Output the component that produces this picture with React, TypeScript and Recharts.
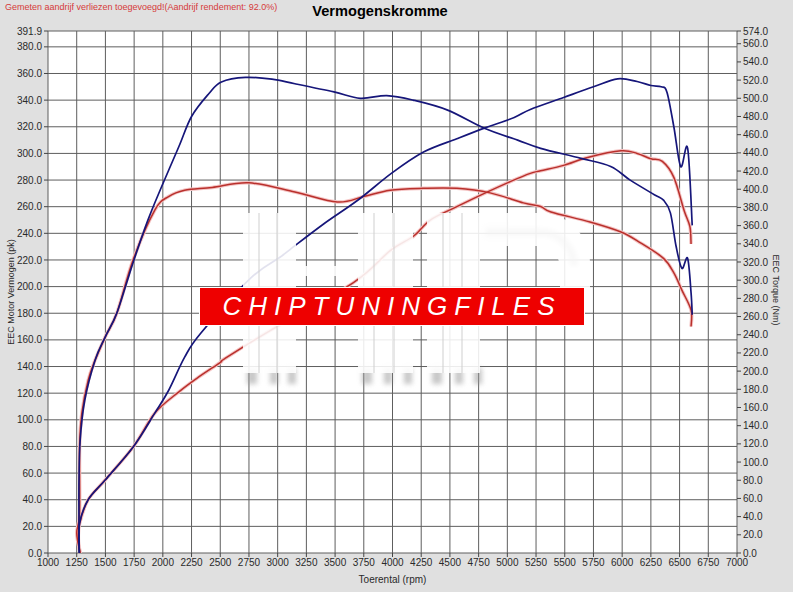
import { LineChart, Line, XAxis, YAxis, CartesianGrid } from "recharts";

// toerental ticks / as-schalen
const rpmTicks = [1000, 1250, 1500, 1750, 2000, 2250, 2500, 2750, 3000, 3250, 3500, 3750, 4000, 4250, 4500, 4750, 5000, 5250, 5500, 5750, 6000, 6250, 6500, 6750, 7000];
const pkTicks = [0, 20, 40, 60, 80, 100, 120, 140, 160, 180, 200, 220, 240, 260, 280, 300, 320, 340, 360, 380, 391.9];
const nmTicks = [0, 20, 40, 60, 80, 100, 120, 140, 160, 180, 200, 220, 240, 260, 280, 300, 320, 340, 360, 380, 400, 420, 440, 460, 480, 500, 520, 540, 560, 574];

// vermogen na tuning (blauw)
const tunedPowerRpm = [1272, 1275, 1350, 1500, 1745, 1930, 2050, 2190, 2330, 2760, 3020, 3110, 3400, 3700, 3990, 4270, 4560, 4800, 5060, 5200, 5490, 5750, 5960, 6130, 6250, 6340, 6390, 6450, 6510, 6570, 6610];
const tunedPowerPk = [0, 22, 40, 55, 80, 105, 122, 147, 165, 206, 222, 228, 247, 265, 285, 301, 311, 319, 327, 333, 342, 350, 356, 354, 351, 350, 346, 320, 290, 304, 246];

// koppel na tuning (blauw)
const tunedTorqueRpm = [1272, 1270, 1270, 1280, 1320, 1410, 1500, 1600, 1740, 1870, 1990, 2140, 2250, 2400, 2510, 2720, 2950, 3150, 3490, 3720, 3950, 4180, 4480, 4800, 5090, 5290, 5640, 5900, 6070, 6280, 6360, 6420, 6470, 6520, 6570, 6600, 6610];
const tunedTorqueNm = [0, 33, 80, 124, 168, 212, 238, 264, 319, 366, 403, 447, 480, 505, 518, 523, 521, 516, 507, 500, 503, 498, 487, 467, 454, 445, 434, 425, 410, 394, 388, 374, 337, 313, 324, 286, 262];

// vermogen standaard (rood)
const stockPowerRpm = [1280, 1265, 1275, 1350, 1500, 1745, 1930, 2140, 2310, 2500, 2540, 2935, 3660, 3980, 4185, 4330, 4560, 4800, 5030, 5200, 5290, 5490, 5700, 5990, 6130, 6250, 6350, 6450, 6540, 6590, 6600];
const stockPowerPk = [0, 10, 22, 40, 55, 80, 105, 121, 132, 143, 146, 167, 203, 227, 238, 250, 260, 270, 279, 285, 287, 291, 297, 302, 300, 296, 294, 282, 257, 245, 232];

// koppel standaard (rood)
const stockTorqueRpm = [1280, 1250, 1275, 1275, 1295, 1350, 1410, 1500, 1600, 1740, 1930, 2050, 2190, 2430, 2750, 3150, 3520, 3750, 3980, 4270, 4560, 4850, 5140, 5290, 5380, 5720, 5990, 6160, 6360, 6450, 6520, 6600, 6600];
const stockTorqueNm = [0, 22, 44, 117, 154, 190, 212, 238, 264, 322, 377, 392, 399, 402, 407, 397, 386, 392, 399, 401, 401, 396, 385, 381, 375, 364, 353, 341, 324, 308, 289, 267, 249];

const toRows = (rpm: number[], vals: number[]) => rpm.map((r, i) => ({ rpm: r, v: vals[i] }));

const tunedPower = toRows(tunedPowerRpm, tunedPowerPk);
const tunedTorque = toRows(tunedTorqueRpm, tunedTorqueNm);
const stockPower = toRows(stockPowerRpm, stockPowerPk);
const stockTorque = toRows(stockTorqueRpm, stockTorqueNm);

// catmull-rom door de meetpunten, werkt ook als het toerental even terugloopt
const smoothCurve = (ctx: any) => {
  let pts: number[][] = [];
  return {
    areaStart() {},
    areaEnd() {},
    lineStart() {
      pts = [];
    },
    point(x: number, y: number) {
      pts.push([+x, +y]);
    },
    lineEnd() {
      if (!pts.length) return;
      ctx.moveTo(pts[0][0], pts[0][1]);
      for (let i = 0; i < pts.length - 1; i++) {
        const p0 = pts[Math.max(i - 1, 0)];
        const p1 = pts[i];
        const p2 = pts[i + 1];
        const p3 = pts[Math.min(i + 2, pts.length - 1)];
        ctx.bezierCurveTo(
          p1[0] + (p2[0] - p0[0]) / 6,
          p1[1] + (p2[1] - p0[1]) / 6,
          p2[0] - (p3[0] - p1[0]) / 6,
          p2[1] - (p3[1] - p1[1]) / 6,
          p2[0],
          p2[1]
        );
      }
    },
  };
};

const BLUE = "#16167a";
const RED = "#b9302c";
const HALO = "#f4c4c4";
const tickStyle = { fontSize: 10, fill: "#2a2a2a", fontFamily: "Liberation Sans, Arial" };

export default function App() {
  return (
    <div
      style={{
        position: "absolute",
        left: 0,
        top: 0,
        width: 793,
        height: 592,
        background: "#e0e0e0",
        fontFamily: "Liberation Sans, Arial, sans-serif",
        overflow: "hidden",
      }}
    >
      <div style={{ position: "absolute", left: 5, top: 2, fontSize: 9, color: "#d63a3a" }}>
        Gemeten aandrijf verliezen toegevoegd!(Aandrijf rendement: 92.0%)
      </div>
      <div
        style={{
          position: "absolute",
          left: 280,
          width: 200,
          top: 3,
          textAlign: "center",
          fontSize: 14.6,
          fontWeight: "bold",
          color: "#000",
        }}
      >
        Vermogenskromme
      </div>

      <LineChart width={793} height={592} margin={{ top: 31, right: 0, bottom: 0, left: 0 }}>
        <CartesianGrid yAxisId="pk" fill="#ffffff" stroke="#5e5e5e" strokeWidth={1} />
        <XAxis
          dataKey="rpm"
          type="number"
          domain={[1000, 7000]}
          ticks={rpmTicks}
          interval={0}
          allowDuplicatedCategory={false}
          height={39}
          tickSize={4}
          tick={tickStyle}
          stroke="#444"
          axisLine={false}
          label={{ value: "Toerental (rpm)", position: "insideBottom", offset: 9, style: { fontSize: 10, fill: "#2a2a2a" } }}
        />
        <YAxis
          yAxisId="pk"
          orientation="left"
          type="number"
          domain={[0, 391.9]}
          ticks={pkTicks}
          interval={0}
          width={48}
          tickSize={4}
          tick={tickStyle}
          stroke="#444"
          axisLine={false}
          tickFormatter={(v: number) => v.toFixed(1)}
        />
        <YAxis
          yAxisId="nm"
          orientation="right"
          type="number"
          domain={[0, 574]}
          ticks={nmTicks}
          interval={0}
          width={56}
          tickSize={4}
          tick={tickStyle}
          stroke="#444"
          axisLine={false}
          tickFormatter={(v: number) => v.toFixed(1)}
        />

        <Line yAxisId="nm" data={stockTorque} dataKey="v" type={smoothCurve as any} stroke={HALO} strokeWidth={3.5} dot={false} activeDot={false} isAnimationActive={false} />
        <Line yAxisId="pk" data={stockPower} dataKey="v" type={smoothCurve as any} stroke={HALO} strokeWidth={3.5} dot={false} activeDot={false} isAnimationActive={false} />
        <Line yAxisId="nm" data={stockTorque} dataKey="v" type={smoothCurve as any} stroke={RED} strokeWidth={1.5} dot={false} activeDot={false} isAnimationActive={false} />
        <Line yAxisId="pk" data={stockPower} dataKey="v" type={smoothCurve as any} stroke={RED} strokeWidth={1.5} dot={false} activeDot={false} isAnimationActive={false} />
        <Line yAxisId="nm" data={tunedTorque} dataKey="v" type={smoothCurve as any} stroke={BLUE} strokeWidth={1.7} dot={false} activeDot={false} isAnimationActive={false} />
        <Line yAxisId="pk" data={tunedPower} dataKey="v" type={smoothCurve as any} stroke={BLUE} strokeWidth={1.7} dot={false} activeDot={false} isAnimationActive={false} />
      </LineChart>

      {/* as-titels */}
      <div
        style={{
          position: "absolute",
          left: 11,
          top: 292,
          fontSize: 9,
          color: "#2a2a2a",
          whiteSpace: "nowrap",
          transform: "translate(-50%, -50%) rotate(-90deg)",
        }}
      >
        EEC Motor Vermogen (pk)
      </div>
      <div
        style={{
          position: "absolute",
          left: 776,
          top: 290,
          fontSize: 9,
          color: "#2a2a2a",
          whiteSpace: "nowrap",
          transform: "translate(-50%, -50%) rotate(90deg)",
        }}
      >
        EEC Torque (Nm)
      </div>

      {/* watermerk: vage HP-letters + rode balk */}
      <svg width={793} height={592} style={{ position: "absolute", left: 0, top: 0, pointerEvents: "none" }}>
        <defs>
          <filter id="blur3">
            <feGaussianBlur stdDeviation="2.5" />
          </filter>
        </defs>
        <g fill="#9a9a9a" opacity={0.55} filter="url(#blur3)">
          <rect x={247} y={368} width={10} height={16} />
          <rect x={270} y={368} width={8} height={16} />
          <rect x={288} y={368} width={8} height={16} />
          <rect x={362} y={368} width={10} height={16} />
          <rect x={384} y={368} width={8} height={16} />
          <rect x={404} y={368} width={8} height={16} />
          <rect x={432} y={368} width={10} height={16} />
          <rect x={455} y={368} width={8} height={16} />
          <rect x={474} y={368} width={8} height={16} />
          <path d="M 486 232 H 540 A 34 34 0 0 1 574 266" fill="none" stroke="#9a9a9a" strokeWidth={8} />
        </g>
        <g fill="#ffffff" opacity={0.88}>
          <rect x={243} y={213} width={53} height={160} />
          <rect x={358} y={213} width={55} height={160} />
          <rect x={296} y={266} width={62} height={10} />
          <rect x={427} y={213} width={53} height={160} />
          <path d="M 480 213 H 540 A 50 50 0 0 1 590 263 V 288 H 560 V 268 A 22 22 0 0 0 538 246 H 480 Z" />
        </g>
        <g fill="#d0d0d0" opacity={0.5}>
          <rect x={258} y={213} width={2} height={160} />
          <rect x={276} y={213} width={2} height={160} />
          <rect x={373} y={213} width={2} height={160} />
          <rect x={393} y={213} width={2} height={160} />
          <rect x={442} y={213} width={2} height={160} />
          <rect x={461} y={213} width={2} height={160} />
        </g>
      </svg>
      <div
        style={{
          position: "absolute",
          left: 200,
          top: 288,
          width: 384,
          height: 37,
          background: "#ee0000",
          outline: "1px solid #ffffff",
          color: "#ffffff",
          fontStyle: "italic",
          fontSize: 26,
          letterSpacing: 7,
          lineHeight: "37px",
          textAlign: "center",
          fontFamily: "Liberation Sans, Arial, sans-serif",
        }}
      >
        CHIPTUNINGFILES
      </div>
    </div>
  );
}
